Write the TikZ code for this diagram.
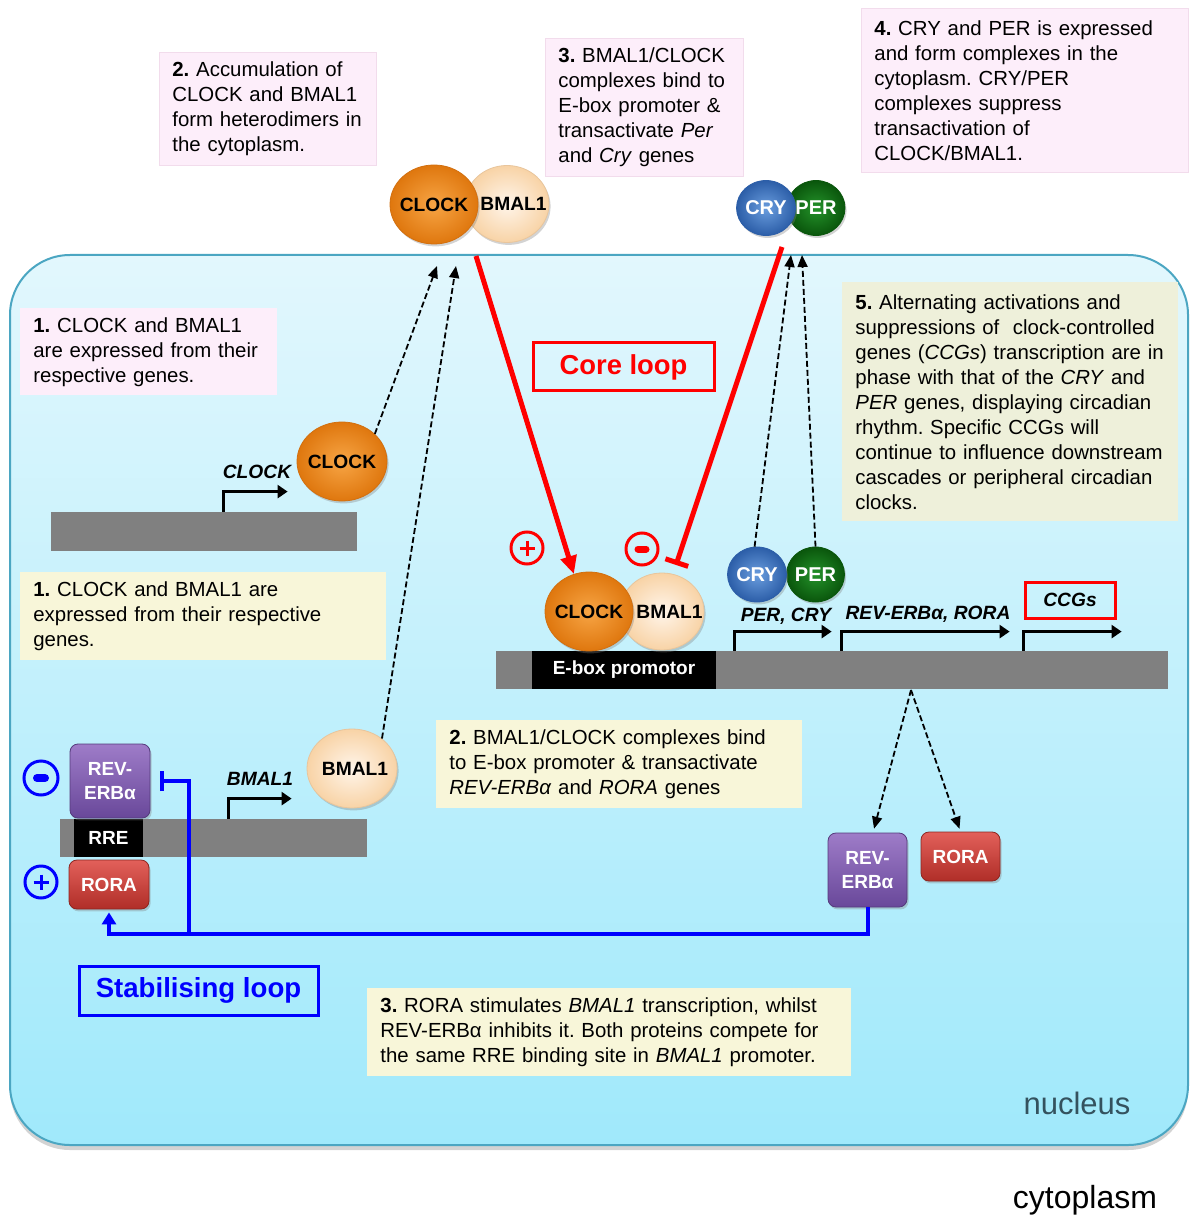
\documentclass[tikz,border=0pt]{standalone}
\usepackage{fontspec}
\setmainfont{Liberation Sans}
\usetikzlibrary{arrows.meta,shapes.geometric,shadows,calc}
\frenchspacing

\definecolor{pinkbg}{HTML}{FDEEFA}
\definecolor{pinkbd}{HTML}{F2DCEC}
\definecolor{yelbg}{HTML}{F8F6D9}
\definecolor{grnbg}{HTML}{EEF0DA}
\definecolor{nucbd}{HTML}{4BA6C2}
\definecolor{nuctop}{HTML}{E2F7FD}
\definecolor{nucbot}{HTML}{A0E9FB}
\definecolor{genegray}{HTML}{808080}
\definecolor{clkin}{HTML}{F7A545}
\definecolor{clkout}{HTML}{DF770E}
\definecolor{clkbd}{HTML}{D27010}
\definecolor{bmin}{HTML}{FFF5EA}
\definecolor{bmout}{HTML}{F8D3A6}
\definecolor{bmbd}{HTML}{E8C59C}
\definecolor{cryin}{HTML}{6A9DDE}
\definecolor{cryout}{HTML}{2C5EA8}
\definecolor{perin}{HTML}{24922A}
\definecolor{perout}{HTML}{0A560C}
\definecolor{revtop}{HTML}{9E7CC8}
\definecolor{revbot}{HTML}{69489A}
\definecolor{roratop}{HTML}{E2605A}
\definecolor{rorabot}{HTML}{B02E28}
\definecolor{nuctext}{HTML}{34525E}

\newcommand\tline[1]{\mbox{#1}}
\newcommand\ptxt[2][0pt]{\makebox[0pt]{\hspace*{#1}#2}}

\begin{document}
\begin{tikzpicture}[x=0.5pt,y=-0.5pt,
  txtbox/.style={anchor=north west, inner xsep=6.5pt, inner ysep=0pt, align=left,
    font=\fontsize{10.2}{12.5}\selectfont},
  pinkbox/.style={txtbox, fill=pinkbg, draw=pinkbd, line width=0.4pt},
  yelbox/.style={txtbox, fill=yelbg},
  grnbox/.style={txtbox, fill=grnbg},
  shad/.style={drop shadow={shadow xshift=0.8pt, shadow yshift=-1.2pt, opacity=0.35}},
  prot/.style={ellipse, inner sep=0pt, shad, line width=0.4pt,
    font=\fontsize{9.6}{11}\selectfont\bfseries},
  clockp/.style={prot, inner color=clkin, outer color=clkout, draw=clkbd,
    minimum width=44pt, minimum height=39.5pt},
  bmalp/.style={prot, inner color=bmin, outer color=bmout, draw=bmbd,
    minimum width=42pt, minimum height=38.5pt},
  cryp/.style={prot, inner color=cryin, outer color=cryout, draw=cryout, text=white,
    font=\fontsize{10}{11}\selectfont\bfseries, minimum width=29.5pt, minimum height=27.5pt},
  perp/.style={prot, inner color=perin, outer color=perout, draw=perout, text=white,
    font=\fontsize{10}{11}\selectfont\bfseries, minimum width=29pt, minimum height=27.5pt},
  protbox/.style={rectangle, rounded corners=4pt, inner sep=0pt, text=white, align=center,
    font=\fontsize{9.5}{12}\selectfont\bfseries, shad},
  revbox/.style={protbox, top color=revtop, bottom color=revbot, draw=revbot!80!black,
    line width=0.4pt, minimum width=40pt, minimum height=37pt},
  rorabox/.style={protbox, top color=roratop, bottom color=rorabot, draw=rorabot!80!black,
    line width=0.4pt, minimum width=40pt, minimum height=24.5pt},
  gene/.style={rectangle, fill=genegray, inner sep=0pt},
  blackbox/.style={rectangle, fill=black, inner sep=0pt, text=white,
    font=\fontsize{9.5}{11}\selectfont\bfseries},
  tss/.style={line width=1.5pt, -{Triangle[length=5pt,width=6.5pt]}},
  genelbl/.style={font=\fontsize{9.6}{11}\selectfont\bfseries\itshape, inner sep=0pt},
  dasharr/.style={line width=0.9pt, dash pattern=on 3pt off 1.5pt,
    -{Triangle[length=6pt,width=5pt]}},
  redl/.style={draw=red, line width=2.5pt},
  bluel/.style={draw=blue, line width=2pt},
  signc/.style={circle, line width=1.5pt, minimum size=16pt, inner sep=0pt},
]
\useasboundingbox (0,0) rectangle (1189,1218);

% nucleus
\path[draw=nucbd, line width=1pt, top color=nuctop, bottom color=nucbot,
  rounded corners=30pt, drop shadow={shadow xshift=0pt, shadow yshift=-2.5pt, opacity=0.35}]
  (10,255) rectangle (1188,1145);
\node[font=\fontsize{15.5}{18}\selectfont, text=nuctext] (nuc) at (1077,1103) {nucleus};
\node[font=\fontsize{16}{18}\selectfont] (cyto) at (1085,1200) {cytoplasm};

% text boxes
\node[pinkbox, text width=95.5pt, minimum height=56.5pt] (a2) at (159,52)
  {\tline{\textbf{2.} Accumulation of}\\\tline{CLOCK and BMAL1}\\\tline{form heterodimers in}\\\tline{the cytoplasm.}};
\node[pinkbox, text width=86pt, minimum height=69pt] (a3) at (545,38)
  {\tline{\textbf{3.} BMAL1/CLOCK}\\\tline{complexes bind to}\\\tline{E-box promoter \&}\\\tline{transactivate \textit{Per}}\\\tline{and \textit{Cry} genes}};
\node[pinkbox, text width=150.5pt, minimum height=82pt] (a4) at (861,8)
  {\tline{\textbf{4.} CRY and PER is expressed}\\\tline{and form complexes in the}\\\tline{cytoplasm. CRY/PER}\\\tline{complexes suppress}\\\tline{transactivation of}\\\tline{CLOCK/BMAL1.}};
\node[pinkbox, draw=none, text width=115.5pt, minimum height=43.5pt] (b1p) at (20,308)
  {\tline{\textbf{1.} CLOCK and BMAL1}\\\tline{are expressed from their}\\\tline{respective genes.}};
\node[yelbox, text width=170pt, minimum height=44pt] (b1y) at (20,572)
  {\tline{\textbf{1.} CLOCK and BMAL1 are}\\\tline{expressed from their respective}\\\tline{genes.}};
\node[grnbox, text width=155pt, minimum height=119.5pt] (b5) at (842,282)
  {\tline{\textbf{5.} Alternating activations and}\\\tline{suppressions of\ \ clock-controlled}\\\tline{genes (\textit{CCGs}) transcription are in}\\\tline{phase with that of the \textit{CRY} and}\\\tline{\textit{PER} genes, displaying circadian}\\\tline{rhythm. Specific CCGs will}\\\tline{continue to influence downstream}\\\tline{cascades or peripheral circadian}\\\tline{clocks.}};
\node[yelbox, text width=170pt, minimum height=44pt] (b2) at (436,720)
  {\tline{\textbf{2.} BMAL1/CLOCK complexes bind}\\\tline{to E-box promoter \& transactivate}\\\tline{\textit{REV-ERBα} and \textit{RORA} genes}};
\node[yelbox, text width=229pt, minimum height=44pt] (b3) at (367,988)
  {\tline{\textbf{3.} RORA stimulates \textit{BMAL1} transcription, whilst}\\\tline{REV-ERBα inhibits it. Both proteins compete for}\\\tline{the same RRE binding site in \textit{BMAL1} promoter.}};

% loop labels
\node[draw=red, line width=1.5pt, minimum width=90.5pt, minimum height=24pt, text=red,
  font=\fontsize{13.7}{16}\selectfont\bfseries] (core) at (623.5,367) {Core loop};
\node[draw=blue, line width=1.5pt, minimum width=119.5pt, minimum height=24.5pt, text=blue,
  font=\fontsize{13.8}{16}\selectfont\bfseries] (stab) at (198.5,990.5) {Stabilising loop};

% genes
\node[gene, minimum width=153pt, minimum height=19.5pt] (gclk) at (204,531.5) {};
\node[gene, minimum width=153.5pt, minimum height=19pt] (gbm) at (213.5,838) {};
\node[gene, minimum width=336pt, minimum height=19pt] (gebox) at (832,670) {};
\node[blackbox, minimum width=92pt, minimum height=19pt] (ebox) at (624,670) {E-box promotor};
\node[blackbox, minimum width=34.5pt, minimum height=19pt] (rre) at (108.5,838) {RRE};

% transcription start arrows
\draw[tss] ($(gclk.north west)+(173,0)$) |- ++(64,-20);
\draw[tss] ($(gbm.north west)+(169,0)$) |- ++(63,-20);
\draw[tss] ($(gebox.north west)+(239,0)$) |- ++(97,-19);
\draw[tss] ($(gebox.north west)+(346,0)$) |- ++(168,-19);
\draw[tss] ($(gebox.north west)+(528,0)$) |- ++(98,-19);
\node[genelbl] (lclk) at (257,472) {CLOCK};
\node[genelbl] (lbm) at (260,779) {BMAL1};
\node[genelbl] (lpc) at (786,616) {PER, CRY};
\node[genelbl] (lrr) at (928,614) {REV-ERBα, RORA};
\node[draw=red, line width=1.5pt, minimum width=45pt, minimum height=18pt, inner sep=0pt,
  font=\fontsize{9.6}{11}\selectfont\bfseries\itshape] (ccg) at (1070,600) {CCGs};

% proteins
\node[bmalp] (bm1) at (507,204) {\ptxt[6.5pt]{BMAL1}};
\node[clockp] (clk1) at (434,204.5) {\ptxt{CLOCK}};
\node[perp] (per1) at (816,208) {\ptxt{PER}};
\node[cryp] (cry1) at (766,208) {\ptxt{CRY}};
\node[clockp, minimum width=45pt] (clk3) at (342,461.5) {\ptxt{CLOCK}};
\node[bmalp, minimum width=45pt, minimum height=39.5pt] (bm3) at (352,768.5) {\ptxt[3pt]{BMAL1}};
\node[bmalp] (bm2) at (662,611.5) {\ptxt[7.5pt]{BMAL1}};
\node[clockp] (clk2) at (589,611.5) {\ptxt{CLOCK}};
\node[perp] (per2) at (815.5,574.5) {\ptxt{PER}};
\node[cryp] (cry2) at (757,574.5) {\ptxt{CRY}};

\node[revbox] (revL) at (110,781) {REV-\\ERBα};
\node[rorabox] (roraL) at (109,884.5) {RORA};
\node[revbox, minimum width=39.5pt] (revR) at (867.5,870) {REV-\\ERBα};
\node[rorabox, minimum width=39.5pt] (roraR) at (960.5,856.5) {RORA};

% dashed export / expression arrows
\coordinate (t1) at (437,266);
\coordinate (t2) at (456,266);
\coordinate (t3) at (791,255);
\coordinate (t4) at (802,255);
\coordinate (gs) at (911,690);
\coordinate (xr) at (873,0);
\draw[dasharr] (clk3.40) -- (t1);
\draw[dasharr] (bm3.45) -- (t2);
\draw[dasharr] (cry2.95) -- (t3);
\draw[dasharr] (per2.north) -- (t4);
\draw[dasharr, shorten >=2pt] (gs) -- (revR.north -| xr);
\draw[dasharr, shorten >=1.5pt] (gs) -- (roraR.north);

% core loop arrows
\coordinate (r1s) at (476,256);
\coordinate (r2s) at (782,247);
\coordinate (r2e) at (676,565);
\draw[redl, -{Triangle[length=9pt,width=8pt]}] (r1s) -- (clk2.112);
\draw[redl, -{Bar[width=12pt]}] (r2s) -- (r2e);
\node[signc, draw=red] (rplus) at (527,548) {};
\draw[red, line width=1.5pt] (rplus) ++(-7.5,0) -- ++(15,0);
\draw[red, line width=1.5pt] (rplus) ++(0,-7.5) -- ++(0,15);
\node[signc, draw=red] (rminus) at (642,549) {};
\draw[red, line width=3.5pt, line cap=round] (rminus) ++(-4,0) -- ++(8,0);

% stabilising loop
\node[signc, draw=blue, minimum size=17pt] (bminus) at (41,778) {};
\draw[blue, line width=4pt, line cap=round] (bminus) ++(-4,0) -- ++(8,0);
\node[signc, draw=blue] (bplus) at (41,882) {};
\draw[blue, line width=1.5pt] (bplus) ++(-7.5,0) -- ++(15,0);
\draw[blue, line width=1.5pt] (bplus) ++(0,-7.5) -- ++(0,15);
\coordinate (ylev) at (0,934);
\coordinate (bj) at (189,934);
\draw[bluel, -{Triangle[length=6pt,width=7pt]}, shorten >=1.5pt]
  (revR.south) -- (revR.south |- ylev) -| (roraL.south);
\draw[bluel, -{Bar[width=10pt]}] (bj) -- (bj |- revL.east) -- ($(revL.east)+(10,0)$);
\end{tikzpicture}
\end{document}
